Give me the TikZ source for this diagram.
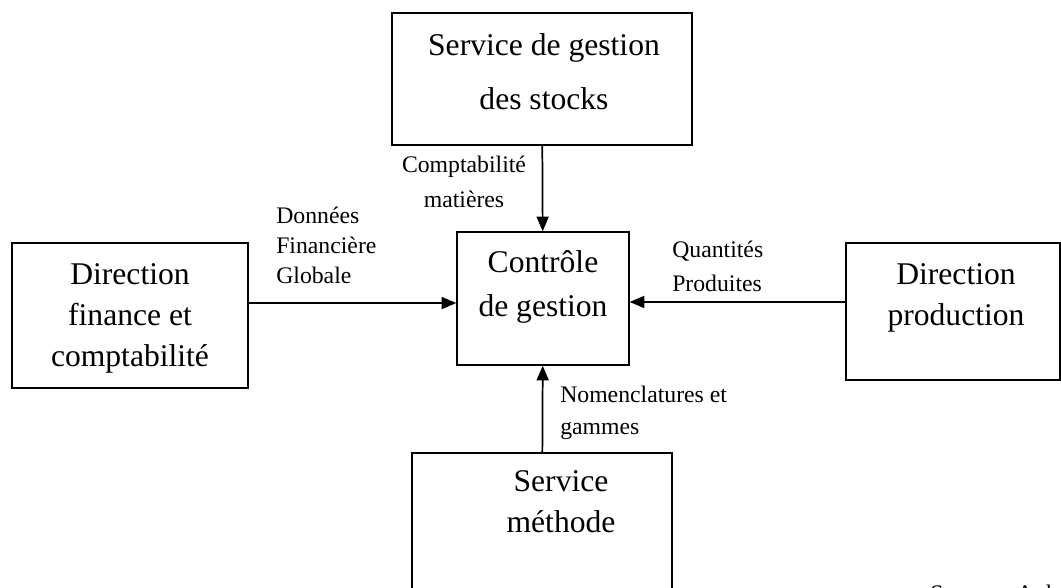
\documentclass[tikz,border=0pt]{standalone}
\usepackage{fontspec}
\setmainfont{Liberation Serif}
\usetikzlibrary{arrows.meta}
\begin{document}
\begin{tikzpicture}[x=0.75pt,y=-0.75pt,
  box/.style={draw,line width=1pt,rectangle,inner sep=0pt},
  boxtxt/.style={anchor=north,align=center,inner sep=0pt,font=\fontsize{23.7}{31}\selectfont},
  lbl/.style={anchor=north west,align=left,inner sep=0pt,font=\fontsize{17.8}{22.5}\selectfont},
  flow/.style={draw,line width=1.3pt,-{Triangle[length=11pt,width=9pt]}}]
\useasboundingbox (0,0) rectangle (1061,588);
\node[box,minimum width=225pt,minimum height=99pt] (stocks) at (542,79) {};
\node[box,minimum width=129pt,minimum height=99.75pt] (ctrl) at (543,298.5) {};
\node[box,minimum width=177pt,minimum height=108.75pt] (fin) at (130,315.5) {};
\node[box,minimum width=160.5pt,minimum height=102.75pt] (prod) at (953,311.5) {};
\node[box,minimum width=195pt,minimum height=125.25pt] (meth) at (542,536.5) {};

\node[boxtxt,font=\fontsize{23.7}{40}\selectfont] (stockstxt) at (544,33.5) {Service de gestion\\des stocks};
\node[boxtxt,font=\fontsize{23.7}{33}\selectfont] (ctrltxt) at (543,250) {Contrôle\\de gestion};
\node[boxtxt] (fintxt) at (130,263) {Direction\\finance et\\comptabilité};
\node[boxtxt] (prodtxt) at (956,263) {Direction\\production};
\node[boxtxt] (methtxt) at (561,470) {Service\\méthode};

\node[lbl,anchor=north,align=center,font=\fontsize{17.8}{26}\selectfont] (lblstocks) at (464,156) {Comptabilité\\matières};
\node[lbl] (lblfin) at (276,207) {Données\\Financière\\Globale};
\node[lbl,font=\fontsize{17.8}{25}\selectfont] (lblprod) at (672,241) {Quantités\\Produites};
\node[lbl,font=\fontsize{17.8}{23.5}\selectfont] (lblmeth) at (560,386) {Nomenclatures et\\gammes};
\node[lbl,anchor=base west] (src) at (930,601) {Source : A d};

\coordinate (inL) at ([yshift=-3.4pt]ctrl.west);
\coordinate (inR) at ([yshift=-2.6pt]ctrl.east);
\path[flow] (stocks) -- (ctrl);
\path[flow] (meth) -- (ctrl);
\path[flow] (fin.east |- inL) -- (inL);
\path[flow] (prod.west |- inR) -- (inR);
\end{tikzpicture}
\end{document}
